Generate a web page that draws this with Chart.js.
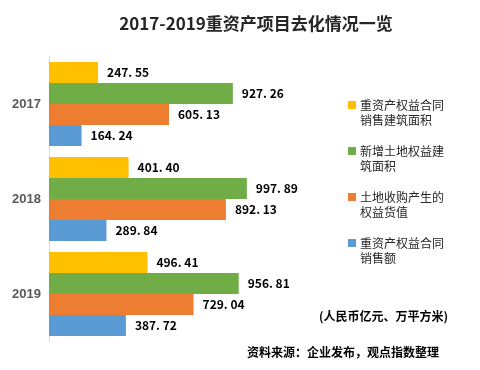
<!DOCTYPE html>
<html>
<head>
<meta charset="utf-8">
<script src="https://cdn.jsdelivr.net/npm/chart.js@4/dist/chart.umd.min.js"></script>
<style>
  body { margin: 0; background: #fff; }
  #wrap { width: 480px; height: 370px; }
</style>
</head>
<body>
<div id="wrap"><canvas id="assetChart" width="480" height="370"></canvas></div>
<script>
var years = ['2017', '2018', '2019'];
var seriesNames = [
    ['重资产权益合同', '销售建筑面积'],
    ['新增土地权益建', '筑面积'],
    ['土地收购产生的', '权益货值'],
    ['重资产权益合同', '销售额']
];
var contractArea = [247.55, 401.40, 496.41];
var newLandArea = [927.26, 997.89, 956.81];
var landValue = [605.13, 892.13, 729.04];
var contractSales = [164.24, 289.84, 387.72];
var colors = ['#FFC000', '#70AD47', '#ED7D31', '#5B9BD5'];
var titleText = '2017-2019重资产项目去化情况一览';
var unitText = '(人民币亿元、万平方米)';
var sourceText = '资料来源：企业发布，观点指数整理';

var cjk = '"Noto Sans CJK SC", "Liberation Sans", sans-serif';

// value labels next to each bar, plus title / legend / notes
var textPlugin = {
    id: 'textPlugin',
    afterDatasetsDraw: function(chart) {
        var ctx = chart.ctx;
        ctx.save();
        ctx.font = 'bold 12px ' + cjk;
        ctx.fillStyle = '#000';
        ctx.textAlign = 'left';
        ctx.textBaseline = 'middle';
        chart.data.datasets.forEach(function(ds, i) {
            var meta = chart.getDatasetMeta(i);
            meta.data.forEach(function(bar, j) {
                var txt = ds.data[j].toFixed(2).replace('.', '. ');
                ctx.fillText(txt, bar.x + 9, bar.y);
            });
        });

        // title
        ctx.font = 'bold 17px ' + cjk;
        ctx.fillStyle = '#262626';
        ctx.textAlign = 'center';
        ctx.fillText(titleText, 256, 24);

        // legend
        ctx.textAlign = 'left';
        ctx.font = '12px ' + cjk;
        seriesNames.forEach(function(lines, i) {
            var y0 = 105 + i * 46;
            ctx.fillStyle = colors[i];
            ctx.fillRect(348, y0 - 4, 8, 8);
            ctx.fillStyle = '#262626';
            lines.forEach(function(line, k) {
                ctx.fillText(line, 360, y0 + k * 15);
            });
        });

        // notes
        ctx.font = 'bold 12px ' + cjk;
        ctx.fillStyle = '#000';
        ctx.fillText(unitText, 319, 316);
        ctx.fillText(sourceText, 247, 352);
        ctx.restore();
    }
};

var ctx1 = document.getElementById('assetChart').getContext('2d');
var assetChart = new Chart(ctx1, {
    type: 'bar',
    data: {
        labels: years,
        datasets: [contractArea, newLandArea, landValue, contractSales].map(function(d, i) {
            return {
                label: seriesNames[i].join(''),
                data: d,
                backgroundColor: colors[i],
                borderWidth: 0,
                barPercentage: 1.0,
                categoryPercentage: 0.884
            };
        })
    },
    options: {
        indexAxis: 'y',
        responsive: false,
        animation: false,
        layout: {
            padding: { top: 56.5, bottom: 28.5, right: 153.4, left: 0 }
        },
        plugins: {
            legend: { display: false },
            title: { display: false },
            tooltip: { enabled: false }
        },
        scales: {
            x: {
                display: false,
                min: 0,
                max: 1400
            },
            y: {
                afterFit: function(scale) { scale.width = 49; },
                grid: { display: false },
                border: { display: true, color: '#d9d9d9', width: 1 },
                ticks: {
                    color: '#595959',
                    padding: 0,
                    font: { family: '"Liberation Sans", Arial, sans-serif', size: 13, weight: 'bold' }
                }
            }
        }
    },
    plugins: [textPlugin]
});
</script>
</body>
</html>
